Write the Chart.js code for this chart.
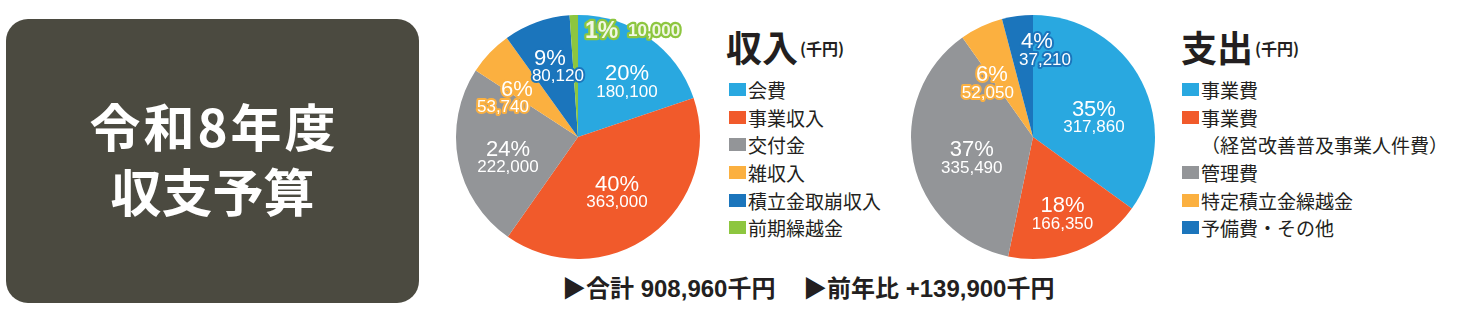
<!DOCTYPE html>
<html><head><meta charset="utf-8">
<script src="https://cdn.jsdelivr.net/npm/chart.js@4.4.1/dist/chart.umd.min.js"></script>
<style>
html,body{margin:0;padding:0;background:#fff;width:1457px;height:323px;overflow:hidden;font-family:"Noto Sans CJK JP",sans-serif;}
.abs{position:absolute;}
#box{left:6px;top:19px;width:413px;height:284px;background:#4b4a40;border-radius:22px;}
.big{color:#fff;font-weight:bold;font-size:51px;line-height:51px;white-space:nowrap;text-align:center;width:413px;left:6px;}
canvas.pie{position:absolute;}
.ttl{white-space:nowrap;color:#231f20;font-weight:bold;}
.ttl .m{font-size:36px;line-height:36px;}
.ttl .s{font-size:16px;line-height:16px;position:relative;top:-7px;margin-left:2px;}
.leg{white-space:nowrap;color:#231f20;font-size:19px;}
.row{display:flex;align-items:center;height:27.6px;}
.sq{width:17px;height:13px;margin-right:2px;flex:none;}
.foot{white-space:nowrap;color:#231f20;font-weight:bold;font-size:24px;line-height:24px;font-family:"Liberation Sans","Noto Sans CJK JP",sans-serif;}
</style></head>
<body>
<div id="box" class="abs"></div>
<div class="abs big" style="top:100px;letter-spacing:3px;box-sizing:border-box;padding-left:3px">令和8年度</div>
<div class="abs big" style="top:165px">収支予算</div>

<canvas id="c1" class="pie" width="260" height="260" style="left:448px;top:7px;width:260px;height:260px"></canvas>
<canvas id="c2" class="pie" width="260" height="260" style="left:903px;top:7px;width:260px;height:260px"></canvas>

<div class="abs ttl" style="left:726px;top:28px"><span class="m">収入</span><span class="s">(千円)</span></div>
<div id="leg1" class="abs leg" style="left:729px;top:76px"></div>
<div class="abs ttl" style="left:1181px;top:28px"><span class="m">支出</span><span class="s">(千円)</span></div>
<div id="leg2" class="abs leg" style="left:1182px;top:76px"></div>

<div id="foot1" class="abs foot" style="left:562px;top:277px"></div>
<div id="foot2" class="abs foot" style="left:803px;top:277px"></div>

<script>
// ---- data ----
const incomeLabels = ['会費','事業収入','交付金','雑収入','積立金取崩収入','前期繰越金'];
const incomeValues = [180100,363000,222000,53740,80120,10000];
const expenseLabels = ['事業費','事業費\n（経営改善普及事業人件費）','管理費','特定積立金繰越金','予備費・その他'];
const expenseValues = [317860,166350,335490,52050,37210];
const totalText = '▶合計 908,960千円';
const diffText = '▶前年比 +139,900千円';

// ---- styles ----
const C = {lb:'#29a8e0', or:'#f15a2b', gr:'#939598', ye:'#fbb040', db:'#1b75bc', gn:'#8dc63f'};
const incomeColors = [C.lb,C.or,C.gr,C.ye,C.db,C.gn];
const expenseColors = [C.lb,C.or,C.gr,C.ye,C.db];
const FF = '"Liberation Sans","Noto Sans CJK JP",sans-serif';

const incomeLayout = [
  {r:.607,a:5.7},
  {r:.553,a:1.5},
  {r:.597,a:-5},
  {r:.647,a:-13.2,halo:true,pdx:7,vdx:-7},
  {r:.615,a:1.1,halo:true,pdx:-4,vdx:4},
  {r:.983,a:28.8,halo:true,bold:true,pdx:-30.5,vdx:22,pdy:0,vdy:0,txt:'#f1f7e4',lw:4.5,ps:23}
];
const expenseLayout = [
  {r:.525,a:9},
  {r:.67,a:0},
  {r:.53,a:-7},
  {r:.57,a:-13.3,halo:true,pdx:2,vdx:-2},
  {r:.72,a:12.6,halo:true,pdx:-4,vdx:4}
];

function makeLabelPlugin(layout){
  return {
    id:'sliceLabels',
    afterDatasetsDraw(chart){
      const ctx = chart.ctx;
      const meta = chart.getDatasetMeta(0);
      const ds = chart.data.datasets[0];
      const total = ds.data.reduce((a,b)=>a+b,0);
      meta.data.forEach((arc,i)=>{
        const L = layout[i];
        const p = arc.getProps(['x','y','startAngle','endAngle','outerRadius'], true);
        const mid = (p.startAngle+p.endAngle)/2 + L.a*Math.PI/180;
        const rr = p.outerRadius*L.r;
        const cx = p.x + Math.cos(mid)*rr, cy = p.y + Math.sin(mid)*rr;
        const pct = Math.round(ds.data[i]/total*100)+'%';
        const val = ds.data[i].toLocaleString('en-US');
        const col = ds.backgroundColor[i];
        const ps = L.ps||22, vs = 17;
        const w = L.bold ? 'bold ' : '';
        const items = [
          [pct, cx+(L.pdx||0), cy+(L.pdy!==undefined?L.pdy:-9.25), ps],
          [val, cx+(L.vdx||0), cy+(L.vdy!==undefined?L.vdy:9.25), vs]
        ];
        ctx.save();
        ctx.textAlign='center';
        ctx.textBaseline='alphabetic';
        items.forEach(([t,x,y,s])=>{
          ctx.font = w + s + 'px ' + FF;
          const by = y + 0.358*s;
          if (L.halo){
            ctx.lineJoin='round';
            ctx.lineWidth = L.lw||4;
            ctx.strokeStyle = col;
            ctx.strokeText(t,x,by);
          }
          ctx.fillStyle = L.txt||'#ffffff';
          ctx.fillText(t,x,by);
        });
        ctx.restore();
      });
    }
  };
}

function makePie(id, labels, values, colors, layout){
  return new Chart(document.getElementById(id), {
    type:'pie',
    data:{labels:labels, datasets:[{data:values, backgroundColor:colors, borderWidth:0, hoverOffset:0}]},
    options:{
      responsive:false, animation:false, events:[],
      layout:{padding:8},
      rotation:0,
      plugins:{legend:{display:false}, tooltip:{enabled:false}}
    },
    plugins:[makeLabelPlugin(layout)]
  });
}
makePie('c1', incomeLabels, incomeValues, incomeColors, incomeLayout);
makePie('c2', expenseLabels, expenseValues, expenseColors, expenseLayout);

function buildLegend(el, labels, colors){
  labels.forEach((lab,i)=>{
    lab.split('\n').forEach((line,j)=>{
      const row = document.createElement('div');
      row.className='row';
      const sq = document.createElement('div');
      sq.className='sq';
      if (j===0) sq.style.background = colors[i];
      const tx = document.createElement('span');
      tx.textContent = line;
      row.appendChild(sq); row.appendChild(tx);
      el.appendChild(row);
    });
  });
}
buildLegend(document.getElementById('leg1'), incomeLabels, incomeColors);
buildLegend(document.getElementById('leg2'), expenseLabels, expenseColors);
document.getElementById('foot1').textContent = totalText;
document.getElementById('foot2').textContent = diffText;
</script>
</body></html>
